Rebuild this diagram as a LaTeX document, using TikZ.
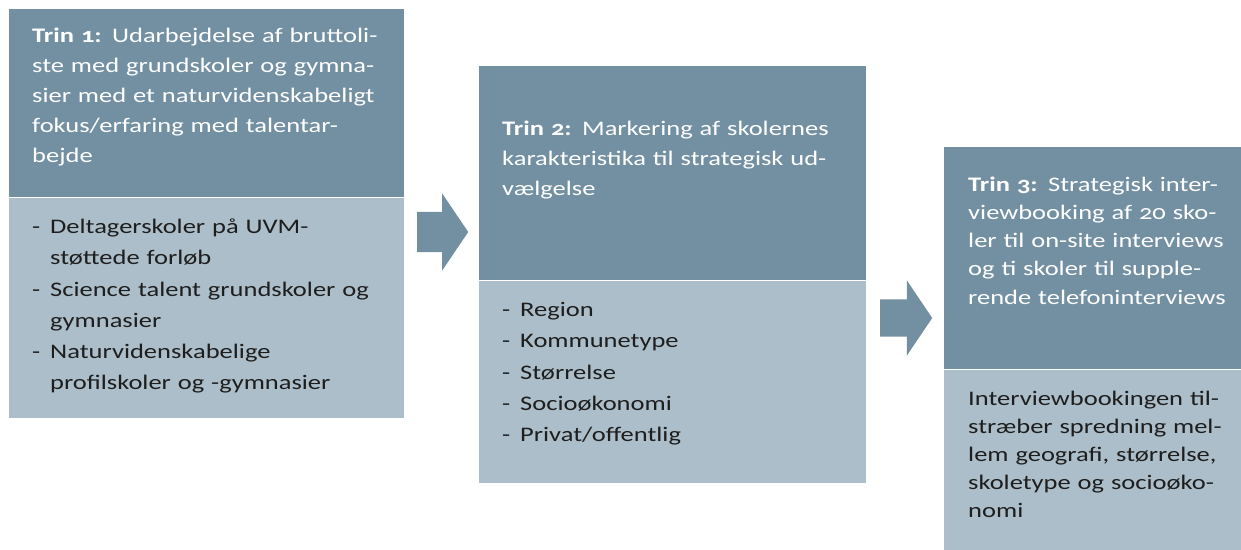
\documentclass[tikz,border=0pt]{standalone}
\usepackage{fontspec}
\setmainfont{Carlito}[FakeStretch=1.28,Numbers=OldStyle]
\usetikzlibrary{positioning,shapes.arrows}

\definecolor{trinhead}{RGB}{115,144,163}
\definecolor{trinbody}{RGB}{172,190,201}
\definecolor{trintext}{RGB}{30,30,30}

\newcommand{\itm}{\makebox[18pt][l]{-}}
\newcommand{\cont}{\hspace*{18pt}}

\begin{document}
\begin{tikzpicture}[
            x = 1pt, y = -1pt, % pixel grid, y runs down
            headbox/.style = {fill = trinhead, anchor = north west, inner sep = 0pt},
            bodybox/.style = {fill = trinbody, inner sep = 0pt},
            headtext/.style = {anchor = base west, inner sep = 0pt, align = left,
                text = white, font = \fontsize{20.7}{30}\selectfont},
            bodytext/.style = {anchor = base west, inner sep = 0pt, align = left,
                text = trintext, font = \fontsize{20.7}{31.3}\selectfont},
            steparrow/.style = {single arrow, fill = trinhead, inner xsep = 0pt,
                anchor = tail, single arrow tip angle = 112}
        ]

        \useasboundingbox (0,0) rectangle (1241,549);

        % trin 1
        \node[headbox, minimum width = 395pt, minimum height = 188pt] (t1h) at (9,9) {};
        \node[bodybox, minimum width = 395pt, minimum height = 220pt, below = 0pt of t1h] (t1b) {};
        \node[headtext, text width = 360pt] (t1htxt) at ([shift={(23,33)}]t1h.north west)
            {\textbf{Trin 1:} Udarbejdelse af bruttoli-\\ste med grundskoler og gymna-\\sier med et naturvidenskabeligt\\fokus/erfaring med talentar-\\bejde};
        \node[bodytext, text width = 360pt] (t1btxt) at ([shift={(23,36)}]t1b.north west)
            {\itm Deltagerskoler på UVM-\\\cont støttede forløb\\\itm Science talent grundskoler og\\\cont gymnasier\\\itm Naturvidenskabelige\\\cont profilskoler og -gymnasier};

        % trin 2
        \node[headbox, minimum width = 387pt, minimum height = 214pt] (t2h) at (479,66) {};
        \node[bodybox, minimum width = 387pt, minimum height = 202pt, below = 0pt of t2h] (t2b) {};
        \node[headtext, text width = 355pt] (t2htxt) at ([shift={(23,69)}]t2h.north west)
            {\textbf{Trin 2:} Markering af skolernes\\karakteristika til strategisk ud-\\vælgelse};
        \node[bodytext, text width = 355pt] (t2btxt) at ([shift={(23,36)}]t2b.north west)
            {\itm Region\\\itm Kommunetype\\\itm Størrelse\\\itm Socioøkonomi\\\itm Privat/offentlig};

        % trin 3
        \node[headbox, minimum width = 297pt, minimum height = 222pt] (t3h) at (944,147) {};
        \node[bodybox, minimum width = 297pt, minimum height = 180pt, below = 0pt of t3h] (t3b) {};
        \node[headtext, text width = 270pt, font = \fontsize{20.7}{28.3}\selectfont] (t3htxt)
            at ([shift={(24,44)}]t3h.north west)
            {\textbf{Trin 3:} Strategisk inter-\\viewbooking af 20 sko-\\ler til on-site interviews\\og ti skoler til supple-\\rende telefoninterviews};
        \node[bodytext, text width = 270pt, font = \fontsize{20.7}{28}\selectfont] (t3btxt)
            at ([shift={(24,36)}]t3b.north west)
            {Interviewbookingen til-\\stræber spredning mel-\\lem geografi, størrelse,\\skoletype og socioøko-\\nomi};

        % arrows between the steps
        \node[steparrow, minimum height = 51pt, inner ysep = 20pt,
            single arrow head extend = 18.5pt] (arr1) at (417,232) {};
        \node[steparrow, minimum height = 52pt, inner ysep = 18.5pt,
            single arrow head extend = 19pt] (arr2) at (880,318) {};

\end{tikzpicture}
\end{document}
